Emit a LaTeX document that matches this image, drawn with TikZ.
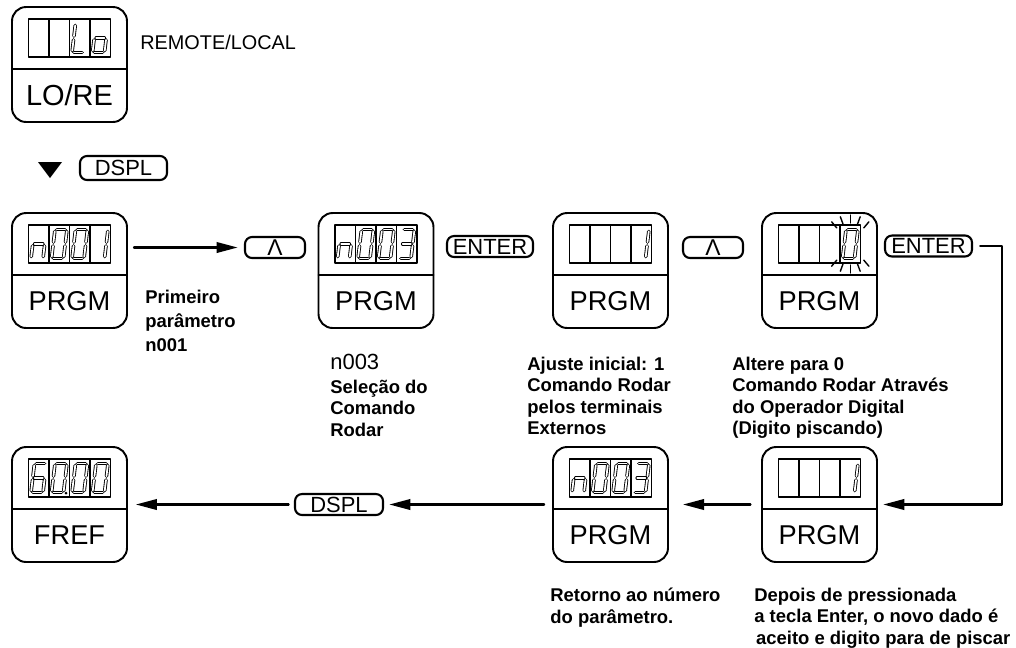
\documentclass[tikz,border=0pt]{standalone}
\usepackage{fontspec}
\setmainfont{Liberation Sans}
\usetikzlibrary{calc,arrows.meta,positioning}

% segment lists for the LCD digits
\def\dzero{sA/sB,sB/sD,sD/sF,sE/sF,sC/sE,sA/sC}
\def\done{sB/sD,sD/sF}
\def\dthree{sA/sB,sB/sD,sD/sF,sE/sF,sC/sD}
\def\dsix{sA/sB,sA/sC,sC/sE,sE/sF,sD/sF,sC/sD}
\def\dn{sC/sD,sD/sF,sC/sE}
\def\dL{sA/sC,sC/sE,sE/sF}
\def\dlo{sC/sD,sD/sF,sE/sF,sC/sE}

\newcommand{\lcdpanel}[4]{%
  \node[panel] (#1) at (#2,#3) {};
  \draw[line width=1pt] ($(#1.center)+(-57.5,4.5)$) -- ($(#1.center)+(57.5,4.5)$);
  \draw[disp] ($(#1.center)+(-41,-45.5)$) rectangle ($(#1.center)+(41,-7.5)$);
  \foreach \k in {-20.5,0,20.5}
    \draw[line width=0.7pt] ($(#1.center)+(\k,-45.5)$) -- ($(#1.center)+(\k,-7.5)$);
  \node[plabel] (#1-lbl) at ($(#1.center)+(0,30.5)$) {#4};}

\newcommand{\lcddigit}[3]{%
  \begin{scope}[shift={($(#1.center)+({-51.25+20.5*#2},-26.5)$)}, xslant=0.12]
    \coordinate (sA) at (-6,-14.5); \coordinate (sB) at (6,-14.5);
    \coordinate (sC) at (-6,0);     \coordinate (sD) at (6,0);
    \coordinate (sE) at (-6,14.5);  \coordinate (sF) at (6,14.5);
    \foreach \p/\q in #3 {\draw[seg] (\p) -- (\q);}
  \end{scope}}

\begin{document}
\begin{tikzpicture}[x=0.02cm, y=-0.02cm, line cap=round, line join=round,
  panel/.style={draw, line width=1.1pt, rounded corners=8pt, minimum width=2.3cm, minimum height=2.3cm, inner sep=0},
  plabel/.style={font=\fontsize{15.5}{18}\selectfont, inner sep=0},
  disp/.style={line width=0.9pt},
  seg/.style={line width=0.5pt, double=white, double distance=1pt, shorten <=1.1pt, shorten >=1.1pt},
  key/.style={draw, line width=1.2pt, rounded corners=4pt, minimum height=0.42cm, inner sep=0, font=\fontsize{12.5}{14}\selectfont},
  note/.style={font=\fontsize{10.5}{12.1}\selectfont\bfseries, align=left, anchor=north west, inner sep=0},
  arr/.style={line width=1.2pt, -{Triangle[length=12pt,width=6pt]}}]
\useasboundingbox (0,0) rectangle (1016,647);

% top: local / remote
\lcdpanel{p0}{69.5}{64.5}{\fontsize{16.5}{18}\selectfont LO/RE}
\lcddigit{p0}{3}{\dL}
\lcddigit{p0}{4}{\dlo}
\node[anchor=west, inner sep=0, font=\fontsize{11.3}{13}\selectfont] (remloc) at (140,42) {REMOTE/LOCAL};

\fill (38,162) -- (62,162) -- (50,178) -- cycle;
\node[key, minimum width=1.74cm, minimum height=0.48cm] (dspl1) at (123.5,168) {DSPL};

% first row
\lcdpanel{p1}{69.5}{270.5}{PRGM}
\lcddigit{p1}{1}{\dn}
\lcddigit{p1}{2}{\dzero}
\lcddigit{p1}{3}{\dzero}
\lcddigit{p1}{4}{\done}
\lcdpanel{p2}{376}{270.5}{PRGM}
\lcddigit{p2}{1}{\dn}
\lcddigit{p2}{2}{\dzero}
\lcddigit{p2}{3}{\dzero}
\lcddigit{p2}{4}{\dthree}
\lcdpanel{p3}{610.5}{270.5}{PRGM}
\lcddigit{p3}{4}{\done}
\lcdpanel{p4}{819.5}{270.5}{PRGM}
\lcddigit{p4}{4}{\dzero}
\coordinate (blink) at ($(p4.center)+(30.75,-26.5)$);
\foreach \a in {-130,-110,-90,-70,-50,50,70,90,110,130}
  \draw[line width=0.8pt] ($(blink)+(\a:21)$) -- ($(blink)+(\a:29)$);

\node[key, minimum width=1.2cm] (up1) at (275,247.5) {\fontsize{13}{13}\selectfont Λ};
\node[key, minimum width=1.72cm] (enter1) at (490,246.5) {ENTER};
\node[key, minimum width=1.2cm] (up2) at (713,247.5) {\fontsize{13}{13}\selectfont Λ};
\node[key, minimum width=1.74cm] (enter2) at (928.5,246) {ENTER};

\draw[arr, shorten <=3.4pt, shorten >=3.6pt] (p1.east |- up1.west) -- (up1.west);

\node[note, font=\fontsize{10.5}{13.6}\selectfont\bfseries] (prim) at (145,290) {Primeiro\\parâmetro\\n001};
\node[anchor=north west, inner sep=0, font=\fontsize{12.5}{14}\selectfont] (n3) at (330,354) {n003};
\node[note] (sel) at (330,380) {Seleção do\\Comando\\Rodar};
\node[note] (aju) at (527,357) {Ajuste inicial: 1\\Comando Rodar\\pelos terminais\\Externos};
\node[note] (alt) at (732,357) {Altere para 0\\Comando Rodar Através\\do Operador Digital\\(Digito piscando)};

% second row
\lcdpanel{q1}{69.5}{504.5}{FREF}
\lcddigit{q1}{1}{\dsix}
\lcddigit{q1}{2}{\dzero}
\lcddigit{q1}{3}{\dzero}
\lcddigit{q1}{4}{\dzero}
\fill ($(q1.center)+(-3.5,-11.5)$) circle (1.5);
\lcdpanel{q3}{610.5}{504.5}{PRGM}
\lcddigit{q3}{1}{\dn}
\lcddigit{q3}{2}{\dzero}
\lcddigit{q3}{3}{\dzero}
\lcddigit{q3}{4}{\dthree}
\lcdpanel{q4}{819.5}{504.5}{PRGM}
\lcddigit{q4}{4}{\done}
\node[key, minimum width=1.76cm] (dspl2) at (339,504.5) {DSPL};

\coordinate (turn) at (1002,504.5);
\draw[arr, shorten <=4pt, shorten >=3pt] (enter2.east) -- (enter2.east -| turn) -- (turn) -- (q4.east);
\draw[arr, shorten <=6pt, shorten >=8pt] (q4.west) -- (q3.east);
\draw[arr, shorten <=4.5pt, shorten >=3pt] (q3.west) -- (dspl2.east);
\draw[arr, shorten <=3pt, shorten >=4.5pt] (dspl2.west) -- (q1.east);

\node[note] (ret) at (550,588) {Retorno ao número\\do parâmetro.};
\node[note] (dep) at (754,588) {Depois de pressionada\\a tecla Enter, o novo dado é\\\hspace{1pt}aceito e digito para de piscar};
\end{tikzpicture}
\end{document}
